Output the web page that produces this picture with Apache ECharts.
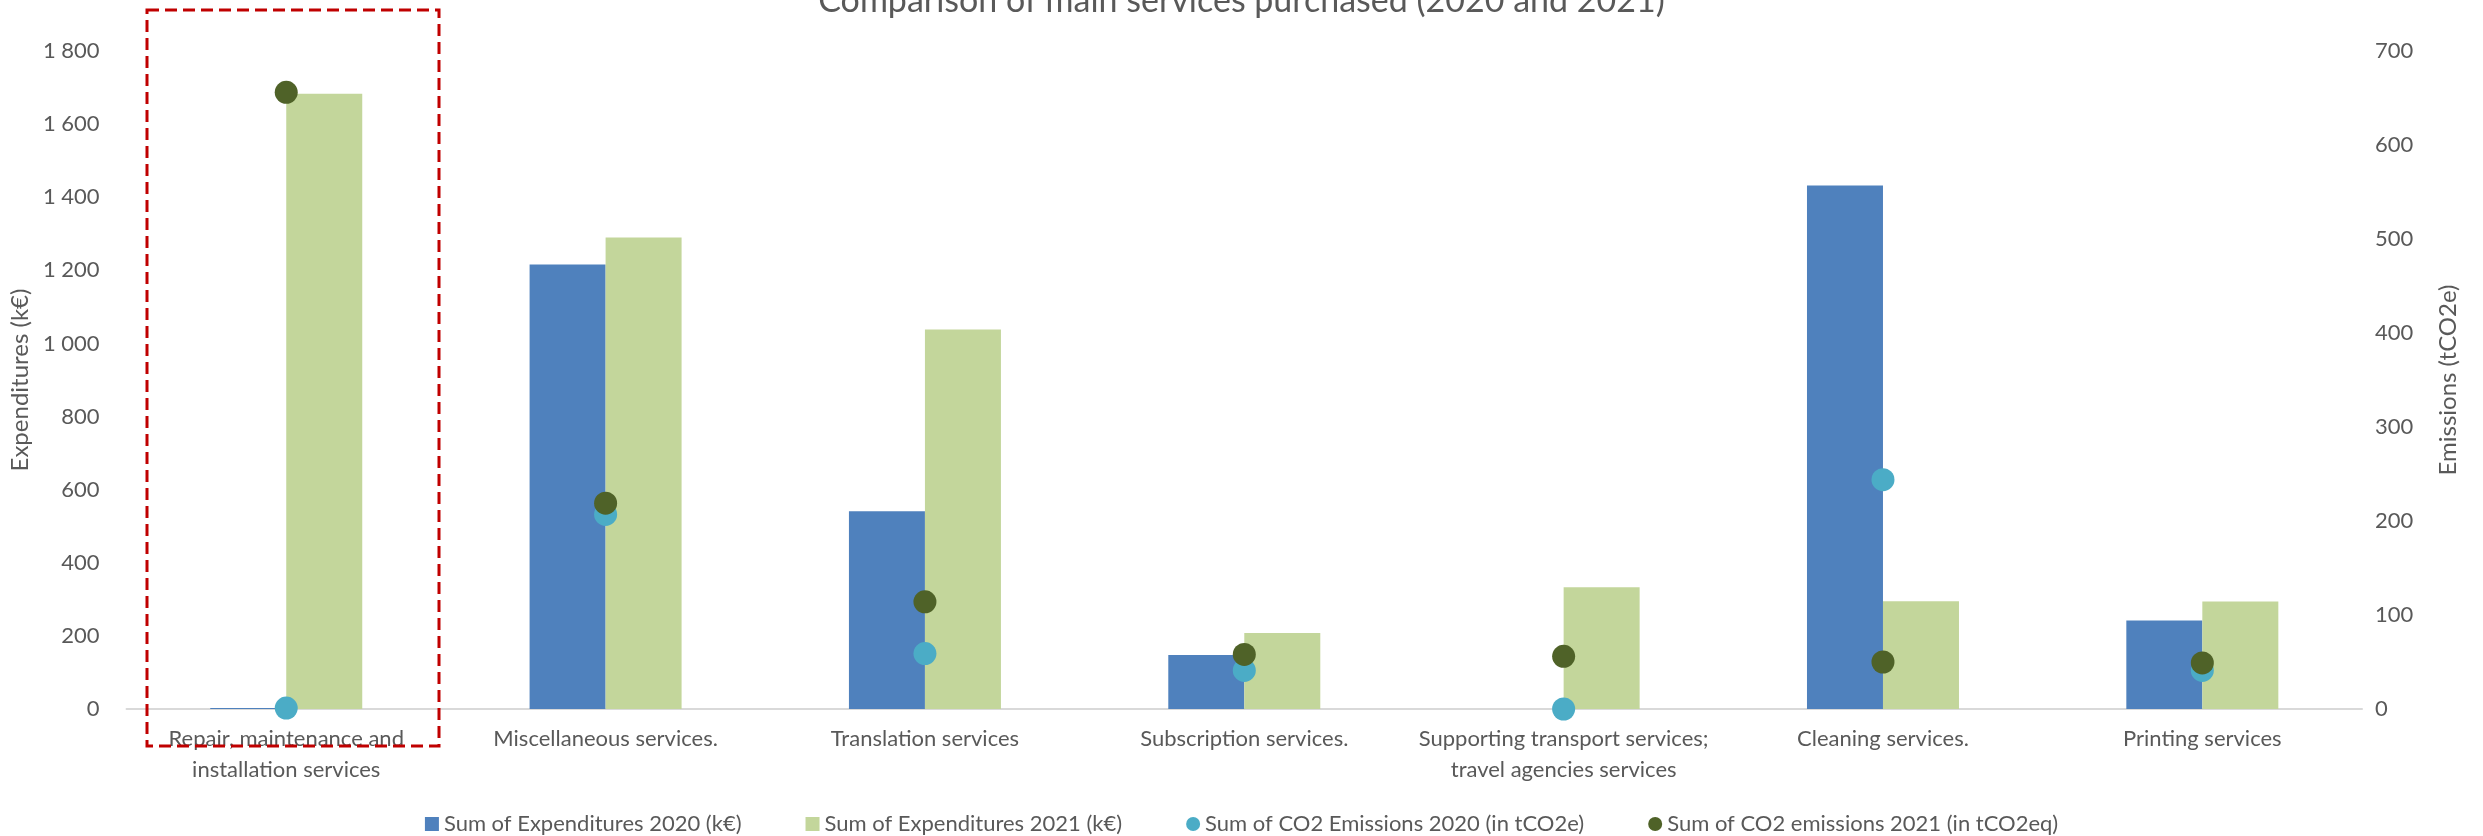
<!DOCTYPE html>
<html>
<head>
<meta charset="utf-8">
<script src="https://cdn.jsdelivr.net/npm/echarts@6/dist/echarts.min.js"></script>
<style>
  html, body { margin: 0; padding: 0; background: #fff; }
  #chart { width: 2483px; height: 836px; }
</style>
</head>
<body>
<div id="chart"></div>
<script>
// categories and values
var categories = [
  'Repair, maintenance and\ninstallation services',
  'Miscellaneous services.',
  'Translation services',
  'Subscription services.',
  'Supporting transport services;\ntravel agencies services',
  'Cleaning services.',
  'Printing services'
]
var expenditures2020 = [3, 1216, 541, 148, 0, 1432, 242]
var expenditures2021 = [1683, 1290, 1038, 208, 333, 295, 294]
var emissions2020 = [1, 207, 59, 41, 0, 244, 41]
var emissions2021 = [656, 219, 114, 58, 56, 50, 49]

var leftTicks = { min: 0, max: 1800, interval: 200 }
var rightTicks = { min: 0, max: 700, interval: 100 }

var grey = '#595959'
var font = 'Lato, "Open Sans", sans-serif'

var myChart = echarts.init(document.getElementById('chart'))

var option = {
  backgroundColor: '#fff',
  textStyle: { fontFamily: font },
  title: {
    text: 'Comparison of main services purchased (2020 and 2021)',
    left: 'center',
    top: -21,
    textStyle: { color: grey, fontSize: 34, fontWeight: 'normal', fontFamily: font }
  },
  grid: {
    left: 124,
    right: 121,
    top: 51,
    bottom: 127
  },
  legend: {
    bottom: -4,
    left: 'center',
    itemWidth: 14,
    itemHeight: 14,
    itemGap: 64,
    textStyle: { color: grey, fontSize: 22, fontFamily: font },
    data: [
      { name: 'Sum of Expenditures 2020 (k€)', icon: 'rect' },
      { name: 'Sum of Expenditures 2021 (k€)', icon: 'rect' },
      { name: 'Sum of CO2 Emissions 2020 (in tCO2e)', icon: 'circle' },
      { name: 'Sum of CO2 emissions 2021 (in tCO2eq)', icon: 'circle' }
    ]
  },
  xAxis: {
    type: 'category',
    data: categories,
    axisLine: { show: true, lineStyle: { color: '#D9D9D9', width: 2 } },
    axisTick: { show: false },
    axisLabel: {
      interval: 0,
      color: grey,
      fontSize: 22,
      lineHeight: 31,
      margin: 14,
      fontFamily: font
    }
  },
  yAxis: [
    {
      type: 'value',
      min: leftTicks.min,
      max: leftTicks.max,
      interval: leftTicks.interval,
      name: 'Expenditures (k€)',
      nameLocation: 'middle',
      nameRotate: 90,
      nameGap: 92,
      nameTextStyle: { color: grey, fontSize: 24, fontFamily: font },
      axisLine: { show: false },
      axisTick: { show: false },
      splitLine: { show: false },
      axisLabel: {
        color: grey,
        fontSize: 22,
        margin: 27,
        fontFamily: font,
        formatter: function (v) {
          return String(v).replace(/\B(?=(\d{3})+(?!\d))/g, ' ')
        }
      }
    },
    {
      type: 'value',
      position: 'right',
      min: rightTicks.min,
      max: rightTicks.max,
      interval: rightTicks.interval,
      name: 'Emissions (tCO2e)',
      nameLocation: 'middle',
      nameRotate: 90,
      nameGap: 74,
      nameTextStyle: { color: grey, fontSize: 24, fontFamily: font },
      axisLine: { show: false },
      axisTick: { show: false },
      splitLine: { show: false },
      axisLabel: { color: grey, fontSize: 22, margin: 13, fontFamily: font }
    }
  ],
  series: [
    {
      name: 'Sum of Expenditures 2020 (k€)',
      type: 'bar',
      yAxisIndex: 0,
      barWidth: 76,
      barGap: '0%',
      itemStyle: { color: '#4F81BD' },
      data: expenditures2020
    },
    {
      name: 'Sum of Expenditures 2021 (k€)',
      type: 'bar',
      yAxisIndex: 0,
      barWidth: 76,
      barGap: '0%',
      itemStyle: { color: '#C3D69B' },
      data: expenditures2021
    },
    {
      name: 'Sum of CO2 Emissions 2020 (in tCO2e)',
      type: 'scatter',
      yAxisIndex: 1,
      symbol: 'circle',
      symbolSize: 23,
      itemStyle: { color: '#4BACC6', opacity: 1 },
      data: emissions2020
    },
    {
      name: 'Sum of CO2 emissions 2021 (in tCO2eq)',
      type: 'scatter',
      yAxisIndex: 1,
      symbol: 'circle',
      symbolSize: 23,
      itemStyle: { color: '#4F6228', opacity: 1 },
      data: emissions2021
    }
  ],
  // red dashed frame round the first category
  graphic: [
    {
      type: 'rect',
      z: 100,
      shape: { x: 147, y: 10, width: 292, height: 736 },
      style: { fill: 'none', stroke: '#C00000', lineWidth: 3, lineDash: [12, 6] }
    }
  ]
}

myChart.setOption(option)
</script>
</body>
</html>
